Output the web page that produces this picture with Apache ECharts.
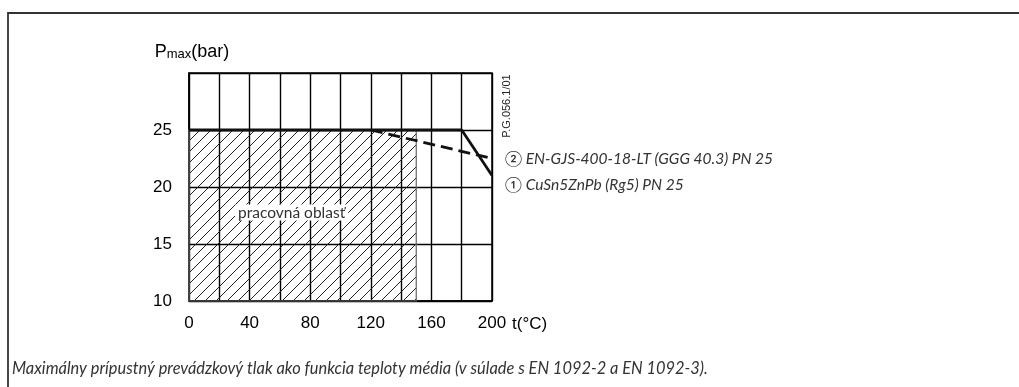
<!DOCTYPE html>
<html><head><meta charset="utf-8">
<script src="https://cdn.jsdelivr.net/npm/echarts@6/dist/echarts.min.js"></script>
<style>html,body{margin:0;padding:0;background:#fff}#c{width:1019px;height:387px}</style>
</head><body><div id="c"></div>
<script>
// ---- data ----
var xTicks = [0, 40, 80, 120, 160, 200];
var yTicks = [10, 15, 20, 25, 30];
var seriesRg5 = [[0, 25], [180, 25], [200, 21]];          // ① CuSn5ZnPb (Rg5) PN 25
var seriesGGG = [[120, 25], [200, 22.5]];                  // ② EN-GJS-400-18-LT (GGG 40.3) PN 25
var workArea = [[0, 10], [150, 25]];                       // pracovná oblasť
var labelRg5 = '① CuSn5ZnPb (Rg5) PN 25';
var labelGGG = '② EN-GJS-400-18-LT (GGG 40.3) PN 25';
var areaLabel = 'pracovná oblasť';
var docCode = 'P.G.056.1/01';
var caption = 'Maximálny prípustný prevádzkový tlak ako funkcia teploty média (v súlade s EN 1092-2 a EN 1092-3).';

// hatch pattern
var pc = document.createElement('canvas');
var S = 11;
pc.width = S; pc.height = S;
var g = pc.getContext('2d');
g.strokeStyle = '#222'; g.lineWidth = 1;
g.beginPath();
g.moveTo(-1, S + 1); g.lineTo(S + 1, -1);
g.stroke();

var chart = echarts.init(document.getElementById('c'));
chart.setOption({
  animation: false,
  grid: {left: 189, right: 527, top: 73, bottom: 86, show: true, borderColor: '#000', borderWidth: 1.5, backgroundColor: 'transparent'},
  xAxis: {
    type: 'value', min: xTicks[0], max: xTicks[xTicks.length - 1], interval: 20,
    axisLine: {show: true, lineStyle: {color: '#000', width: 1.5}},
    axisTick: {show: false},
    splitLine: {show: true, lineStyle: {color: '#000', width: 1.4}},
    axisLabel: {margin: 14, fontFamily: 'Liberation Sans', fontSize: 17, color: '#000',
      formatter: function (v) { return xTicks.indexOf(v) >= 0 ? String(v) : ''; }},
    name: 't(°C)', nameLocation: 'end', nameGap: 14,
    nameTextStyle: {fontFamily: 'Liberation Sans', fontSize: 17, color: '#000', align: 'left', verticalAlign: 'top', padding: [15, 0, 0, 0]}
  },
  yAxis: {
    type: 'value', min: yTicks[0], max: yTicks[yTicks.length - 1], interval: 5,
    axisLine: {show: true, lineStyle: {color: '#000', width: 1.5}},
    axisTick: {show: false},
    splitLine: {show: true, lineStyle: {color: '#000', width: 1.4}},
    axisLabel: {margin: 17, fontFamily: 'Liberation Sans', fontSize: 17, color: '#000',
      formatter: function (v) { return v === 30 ? '' : String(v); }},
    name: '{a|P}{s|max}{a|(bar)}', nameLocation: 'end', nameGap: 12,
    nameTextStyle: {
      align: 'center', padding: [0, 0, 0, 6],
      rich: {
        a: {fontFamily: 'Liberation Sans', fontSize: 18, color: '#000', verticalAlign: 'top', lineHeight: 18},
        s: {fontFamily: 'Liberation Sans', fontSize: 13, color: '#000', verticalAlign: 'bottom', lineHeight: 13, padding: [9, 0, 0, 0]}
      }
    }
  },
  series: [
    {
      type: 'line', name: labelRg5, data: seriesRg5, symbol: 'none', z: 5,
      lineStyle: {color: '#111', width: 2.8},
      endLabel: {show: true, formatter: labelRg5, distance: 13, offset: [0, 9], align: 'left', verticalAlign: 'middle', fontFamily: 'Lato', fontStyle: 'italic', fontSize: 15.5, color: '#333'},
      markArea: {
        silent: true,
        itemStyle: {color: {image: pc, repeat: 'repeat'}, borderColor: '#666', borderWidth: 1.2},
        label: {show: true, position: 'inside', offset: [-11, -3], formatter: areaLabel,
          fontFamily: 'Lato', fontSize: 15.5, color: '#333', backgroundColor: '#fff', padding: [0, 3]},
        data: [[{coord: workArea[0]}, {coord: workArea[1]}]]
      }
    },
    {
      type: 'line', name: labelGGG, data: seriesGGG, symbol: 'none', z: 4,
      lineStyle: {color: '#111', width: 2.8, type: [12, 6]},
      endLabel: {show: true, formatter: labelGGG, distance: 13, align: 'left', verticalAlign: 'middle', fontFamily: 'Lato', fontStyle: 'italic', fontSize: 15.5, color: '#333'}
    }
  ],
  graphic: [
    {type: 'polyline', shape: {points: [[8, 387], [8, 13], [1019, 13]]}, style: {stroke: '#333', lineWidth: 1.8, fill: null}, silent: true},
    {type: 'text', x: 507, y: 106, rotation: Math.PI / 2, style: {text: docCode, fontFamily: 'Liberation Sans', fontSize: 11, fill: '#222', align: 'center', verticalAlign: 'middle'}},
    {type: 'text', x: 12, y: 369, style: {text: caption, fontFamily: 'Lato', fontStyle: 'italic', fontSize: 16.4, fill: '#333', align: 'left', verticalAlign: 'middle'}}
  ]
});
</script></body></html>
